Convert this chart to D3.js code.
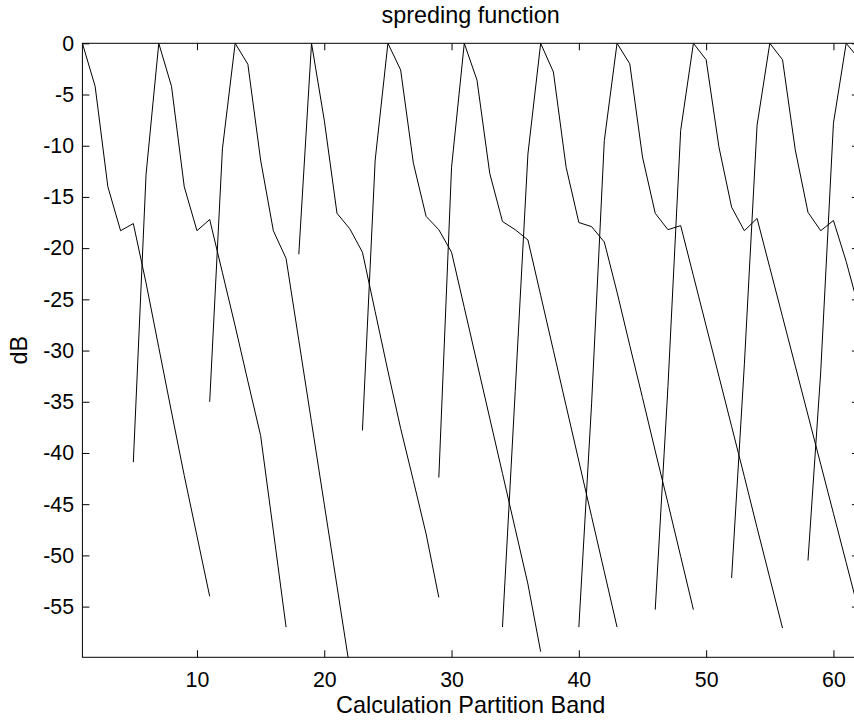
<!DOCTYPE html>
<html>
<head>
<meta charset="utf-8">
<script src="https://cdn.jsdelivr.net/npm/d3@7/dist/d3.min.js"></script>
<style>
  body { margin: 0; background: #fff; }
  svg { display: block; }
  .tick text { font-family: "Liberation Sans", Arial, Helvetica, sans-serif; font-size: 21.3px; fill: #000; }
  .label { font-family: "Liberation Sans", Arial, Helvetica, sans-serif; font-size: 23.4px; fill: #000; }
</style>
</head>
<body>
<svg id="chart" width="854" height="722"></svg>
<script>
// first band of each spreading curve (peak is where the value is 0)
const start_bands = [1, 5, 11, 18, 23, 29, 34, 40, 46, 52, 58];

// dB values, one per partition band
const spread_1 = [0, -4.2, -14.0, -18.3, -17.6, -23.4, -29.7, -36.0, -42.2, -48.1, -54.0];
const spread_2 = [-40.9, -12.8, 0, -4.2, -14.0, -18.3, -17.2, -22.4, -27.6, -33.0, -38.3, -47.6, -57.0];
const spread_3 = [-35.0, -10.3, 0, -2.05, -11.4, -18.3, -21.0, -29.0, -37.0, -45.0, -53.0, -61.0];
const spread_4 = [-20.6, 0, -7.5, -16.6, -18.1, -20.4, -26.2, -32.0, -37.6, -42.7, -47.9, -54.1];
const spread_5 = [-37.8, -11.4, 0, -2.6, -11.7, -16.9, -18.2, -20.4, -25.8, -31.2, -36.6, -42.0, -47.4, -52.8, -59.4];
const spread_6 = [-42.4, -12.1, 0, -3.6, -12.7, -17.4, -18.2, -19.2, -24.6, -30.0, -35.4, -40.8, -46.2, -51.6, -57.0];
const spread_7 = [-57.0, -34.0, -10.8, 0, -2.8, -12.1, -17.5, -17.9, -19.4, -24.3, -29.5, -34.6, -39.8, -44.9, -50.1, -55.3];
const spread_8 = [-57.0, -35.2, -9.5, 0, -2.0, -11.1, -16.6, -18.2, -17.8, -22.7, -27.6, -32.5, -37.4, -42.3, -47.3, -52.2, -57.1];
const spread_9 = [-55.3, -33.5, -8.5, 0, -1.6, -10.1, -16.0, -18.3, -17.1, -21.9, -26.7, -31.5, -36.3, -41.1, -45.9, -50.7, -55.5];
const spread_10 = [-52.2, -31.4, -8.0, 0, -1.6, -10.4, -16.5, -18.3, -17.3, -21.3, -25.9];
const spread_11 = [-50.5, -32.1, -7.8, 0, -1.5];

const x_ticks = [10, 20, 30, 40, 50, 60];
const y_ticks = [0, -5, -10, -15, -20, -25, -30, -35, -40, -45, -50, -55];

const spreads = [spread_1, spread_2, spread_3, spread_4, spread_5, spread_6,
                 spread_7, spread_8, spread_9, spread_10, spread_11];

const svg = d3.select('#chart');
const plot_left = 82.4, plot_top = 43.3, plot_right = 858.9, plot_bottom = 657.3;

const x = d3.scaleLinear().domain([1, 62]).range([plot_left, plot_right]);
const y = d3.scaleLinear().domain([-59.95, 0]).range([plot_bottom, plot_top]);

svg.append('clipPath')
  .attr('id', 'plot-clip')
  .append('rect')
  .attr('x', plot_left).attr('y', plot_top)
  .attr('width', plot_right - plot_left).attr('height', plot_bottom - plot_top);

// curves
const line = d3.line()
  .x((d) => x(d[0]))
  .y((d) => y(d[1]));

const curves = spreads.map((values, i) => values.map((v, j) => [start_bands[i] + j, v]));

svg.append('g')
  .attr('clip-path', 'url(#plot-clip)')
  .selectAll('path')
  .data(curves)
  .enter()
  .append('path')
  .attr('d', line)
  .attr('fill', 'none')
  .attr('stroke', '#000')
  .attr('stroke-width', 1);

// axes, MATLAB style: inward ticks on all four sides, plain hyphen for minus
const plain = (d) => String(d);

function style_axis(g) {
  g.select('.domain').remove();
  g.selectAll('.tick line').attr('stroke', '#000').attr('stroke-width', 1);
  g.attr('font-family', null).attr('font-size', null);
}

svg.append('g')
  .attr('transform', `translate(0,${plot_bottom})`)
  .call(d3.axisBottom(x).tickValues(x_ticks).tickFormat(plain).tickSize(-7).tickPadding(14.3))
  .call(style_axis);

svg.append('g')
  .attr('transform', `translate(0,${plot_top})`)
  .call(d3.axisTop(x).tickValues(x_ticks).tickSize(-7).tickFormat(''))
  .call(style_axis);

svg.append('g')
  .attr('transform', `translate(${plot_left},0)`)
  .call(d3.axisLeft(y).tickValues(y_ticks).tickFormat(plain).tickSize(-7).tickPadding(8.4))
  .call(style_axis);

svg.append('g')
  .attr('transform', `translate(${plot_right},0)`)
  .call(d3.axisRight(y).tickValues(y_ticks).tickSize(-7).tickFormat(''))
  .call(style_axis);

svg.append('rect')
  .attr('x', plot_left).attr('y', plot_top)
  .attr('width', plot_right - plot_left).attr('height', plot_bottom - plot_top)
  .attr('fill', 'none')
  .attr('stroke', '#000')
  .attr('stroke-width', 1);

// labels
svg.append('text')
  .attr('class', 'label')
  .attr('x', (plot_left + plot_right) / 2)
  .attr('y', 22.7)
  .attr('text-anchor', 'middle')
  .text('spreding function');

svg.append('text')
  .attr('class', 'label')
  .attr('x', (plot_left + plot_right) / 2)
  .attr('y', 713.3)
  .attr('text-anchor', 'middle')
  .text('Calculation Partition Band');

svg.append('text')
  .attr('class', 'label')
  .attr('transform', `translate(27.3,${(plot_top + plot_bottom) / 2}) rotate(-90)`)
  .attr('text-anchor', 'middle')
  .text('dB');
</script>
</body>
</html>
